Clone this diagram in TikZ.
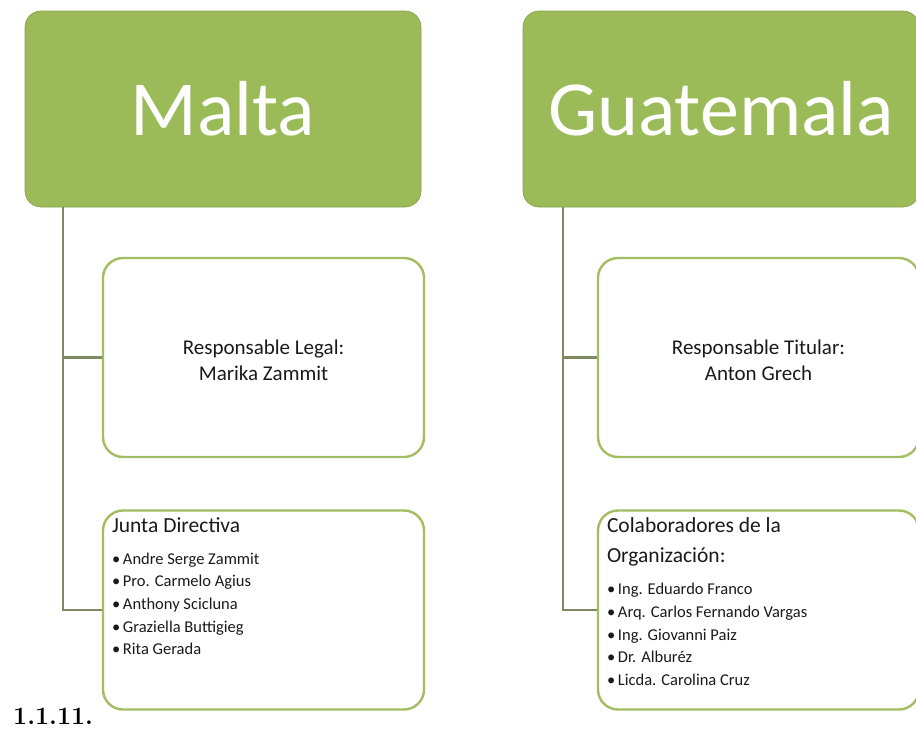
\documentclass[tikz,border=0pt]{standalone}
\usepackage{fontspec}
\setmainfont{Carlito}
\usetikzlibrary{positioning,calc}
\definecolor{Olive}{HTML}{9BBB59}
\definecolor{OliveEdge}{HTML}{A3BD63}
\definecolor{Trunk}{HTML}{7E8B62}
\definecolor{Ink}{HTML}{1A1A1A}
\tikzset{
  country/.style={rectangle,rounded corners=16pt,fill=Olive,draw=Olive!85!black,line width=0.6pt,
    minimum width=396pt,minimum height=196pt,inner sep=0pt,text=white,font=\fontsize{78}{80}\selectfont},
  member/.style={rectangle,rounded corners=20pt,fill=white,draw=OliveEdge,line width=2.4pt,
    minimum width=321pt,minimum height=199pt,inner sep=0pt},
  branch/.style={draw=Trunk,line width=2.6pt},
  roletext/.style={align=center,text=Ink,font=\fontsize{21}{26}\selectfont},
  headtext/.style={anchor=north west,align=left,text=Ink,inner sep=0pt,font=\fontsize{21.5}{30}\selectfont},
  listtext/.style={anchor=north west,align=left,text=Ink,inner sep=0pt,font=\fontsize{16.5}{22.6}\selectfont}
}
\begin{document}
\begin{tikzpicture}[x=1pt,y=-1pt]
\useasboundingbox (0,0) rectangle (916,729);
% Malta
\node[country] (malta) at (223,109) {Malta};
\node[member] (mlegal) at (263.5,357.5) {};
\node[member] (mjunta) at (263.5,610) {};
\coordinate (mtrunk) at (63,207);
\draw[branch] (mtrunk) |- (mlegal.west);
\draw[branch] (mtrunk) |- (mjunta.west);
\node[roletext] at ([yshift=-3]mlegal.center) {Responsable Legal:\\Marika Zammit};
\node[headtext] (mjhead) at ([shift={(10,8)}]mjunta.north west) {Junta Directiva};
\node[listtext] at ([shift={(0,20)}]mjhead.south west) {\textbullet\,Andre Serge Zammit\\
  \textbullet\,Pro. Carmelo Agius\\
  \textbullet\,Anthony Scicluna\\
  \textbullet\,Graziella Buttigieg\\
  \textbullet\,Rita Gerada};
% Guatemala
\node[country] (guate) at (721,109) {Guatemala};
\node[member] (glegal) at (758.5,357.5) {};
\node[member] (gcolab) at (758.5,610) {};
\coordinate (gtrunk) at (563,207);
\draw[branch] (gtrunk) |- (glegal.west);
\draw[branch] (gtrunk) |- (gcolab.west);
\node[roletext] at ([yshift=-3]glegal.center) {Responsable Titular:\\Anton Grech};
\node[headtext] (gchead) at ([shift={(10,8)}]gcolab.north west) {Colaboradores de la\\Organización:};
\node[listtext] at ([shift={(0,17)}]gchead.south west) {\textbullet\,Ing. Eduardo Franco\\
  \textbullet\,Arq. Carlos Fernando Vargas\\
  \textbullet\,Ing. Giovanni Paiz\\
  \textbullet\,Dr. Alburéz\\
  \textbullet\,Licda. Carolina Cruz};
% numbering left below
\node[anchor=base west,inner sep=0pt,font=\rmfamily\fontspec{Latin Modern Roman}\bfseries\fontsize{25}{25}\selectfont] (secnum) at (13,724) {1.1.11.};
\end{tikzpicture}
\end{document}
